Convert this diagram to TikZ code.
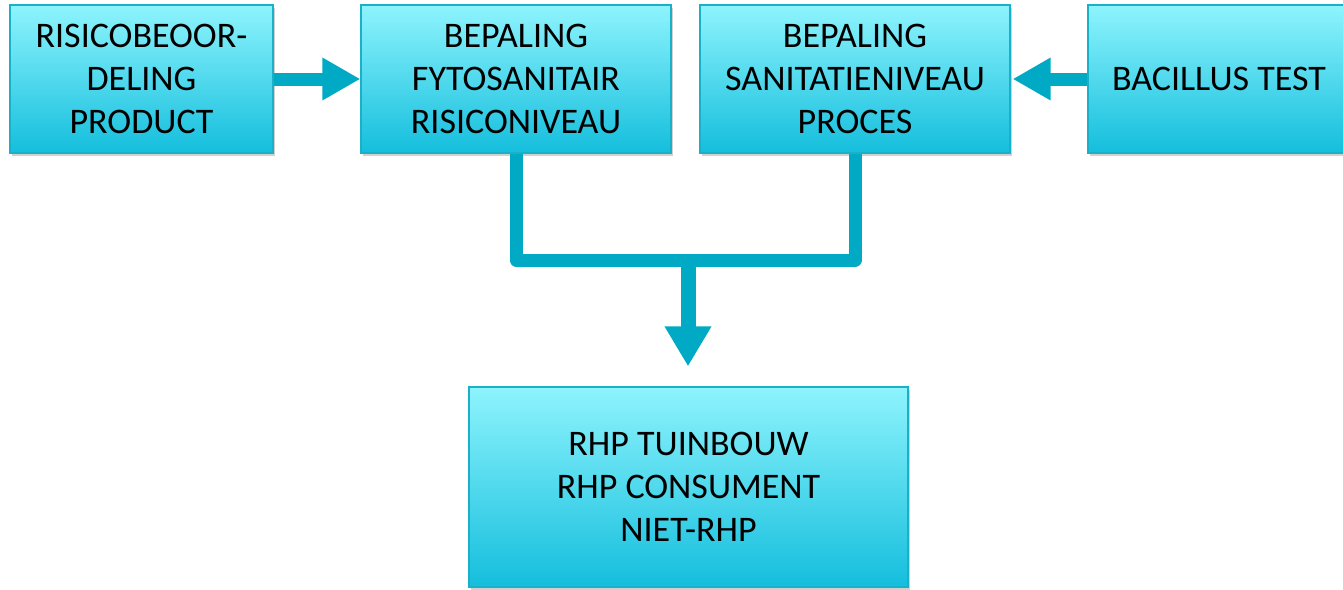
\documentclass[tikz,border=0pt]{standalone}
\usepackage{fontspec}
\setmainfont{Carlito}
\usetikzlibrary{arrows.meta,shadows}
\definecolor{boxtop}{HTML}{8EF4FD}
\definecolor{boxbot}{HTML}{14BEDD}
\definecolor{boxline}{HTML}{1AB0C8}
\definecolor{arr}{HTML}{00AAC4}
\tikzset{
  box/.style={draw=boxline, line width=1.2pt, top color=boxtop, bottom color=boxbot,
    align=center, inner sep=0pt, anchor=center,
    font=\fontsize{36}{43}\selectfont,
    drop shadow={shadow xshift=2pt, shadow yshift=-3pt, opacity=0.18, fill=black}},
  flow/.style={draw=arr, line width=13pt},
  bigarrow/.style={flow, -{Triangle[width=40pt,length=38pt]}},
}
\begin{document}
\begin{tikzpicture}[x=1pt,y=-1pt]
\useasboundingbox (0,0) rectangle (1343,589);
\node[box, minimum width=263pt, minimum height=148pt] (risk) at (141.5,79) {RISICOBEOOR-\\DELING\\PRODUCT};
\node[box, minimum width=310pt, minimum height=148pt] (fyto) at (516,79) {BEPALING\\FYTOSANITAIR\\RISICONIVEAU};
\node[box, minimum width=310pt, minimum height=148pt] (sani) at (855,79) {BEPALING\\SANITATIENIVEAU\\PROCES};
\node[box, minimum width=262pt, minimum height=148pt] (bac) at (1219,79) {BACILLUS TEST};
\node[box, minimum width=439pt, minimum height=200pt] (rhp) at (688.5,487) {RHP TUINBOUW\\RHP CONSUMENT\\NIET-RHP};
\draw[bigarrow] (risk.east) -- (fyto.west);
\draw[bigarrow] (bac.west) -- ([xshift=2pt]sani.east);
\coordinate (j) at (688,260);
\draw[flow, line join=round] (fyto.south) |- (j) -| (sani.south);
\draw[flow, line width=15pt, -{Triangle[width=44pt,length=40pt]}, shorten >=20pt] ([yshift=-6pt]j) -- (rhp.north -| j);
\end{tikzpicture}
\end{document}
